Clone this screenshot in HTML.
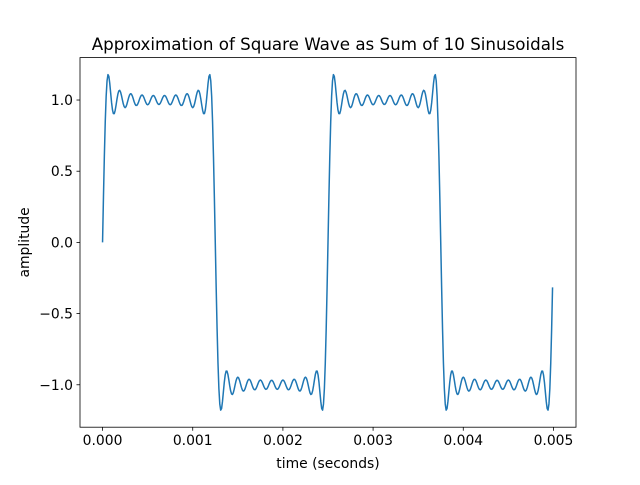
<!DOCTYPE html>
<html><head><meta charset="utf-8"><style>
body{margin:0;background:#fff;font-family:"Liberation Sans","DejaVu Sans",sans-serif}
svg text{font-family:"DejaVu Sans","Liberation Sans",sans-serif;fill:#000}
</style></head><body>
<svg id="chart" width="640" height="480">
<rect width="640" height="480" fill="#fff"/>
<g id="ticks"></g>
<path id="line" fill="none" stroke="#1f77b4" stroke-width="1.5" stroke-linejoin="round"/>
<rect x="80" y="57.6" width="496" height="369.6" fill="none" stroke="#000" stroke-width="0.8"/>
<text x="328" y="50" text-anchor="middle" font-size="16.7">Approximation of Square Wave as Sum of 10 Sinusoidals</text>
<text x="328" y="468" text-anchor="middle" font-size="13.9">time (seconds)</text>
<text x="29" y="242.4" text-anchor="middle" font-size="13.9" transform="rotate(-90 29 242.4)">amplitude</text>
</svg>
<script>
const harmonicNumbers=[1,3,5,7,9,11,13,15,17,19];
const harmonicAmplitudes=[1,1/3,1/5,1/7,1/9,1/11,1/13,1/15,1/17,1/19];
const baseFrequency=400;
const timeStart=0, timeEnd=0.005, timeStep=0.00001;
const xTicks=[0,0.001,0.002,0.003,0.004,0.005];
const xTickLabels=["0.000","0.001","0.002","0.003","0.004","0.005"];
const yTicks=[-1,-0.5,0,0.5,1];
const yTickLabels=["\u22121.0","\u22120.5","0.0","0.5","1.0"];
const L=80,R=576,T=57.6,B=427.2;
const xMin=-0.00025,xMax=0.00525,yMin=-1.298,yMax=1.298;
const xs=v=>L+(v-xMin)/(xMax-xMin)*(R-L);
const ys=v=>B-(v-yMin)/(yMax-yMin)*(B-T);
const NS="http://www.w3.org/2000/svg";
const g=document.getElementById('ticks');
xTicks.forEach((t,i)=>{
 const l=document.createElementNS(NS,'line');
 l.setAttribute('x1',xs(t));l.setAttribute('x2',xs(t));l.setAttribute('y1',B);l.setAttribute('y2',B+3.5);l.setAttribute('stroke','#000');l.setAttribute('stroke-width','0.8');
 
 
 g.appendChild(l);
 const tx=document.createElementNS(NS,'text');
 tx.setAttribute('x',xs(t));tx.setAttribute('y',B+18);tx.setAttribute('text-anchor','middle');tx.setAttribute('font-size','13.9');
 tx.textContent=xTickLabels[i];
 
 
 g.appendChild(tx);
});
yTicks.forEach((t,i)=>{
 const l=document.createElementNS(NS,'line');
 l.setAttribute('x1',L-3.5);l.setAttribute('x2',L);l.setAttribute('y1',ys(t));l.setAttribute('y2',ys(t));l.setAttribute('stroke','#000');l.setAttribute('stroke-width','0.8');
 
 
 g.appendChild(l);
 const tx=document.createElementNS(NS,'text');
 tx.setAttribute('x',L-7);tx.setAttribute('y',ys(t)+5);tx.setAttribute('text-anchor','end');tx.setAttribute('font-size','13.9');
 tx.textContent=yTickLabels[i];
 
 
 g.appendChild(tx);
});
let d='';
const n=Math.round((timeEnd-timeStart)/timeStep);
for(let i=0;i<n;i++){
 const t=timeStart+i*timeStep;
 let v=0;
 harmonicNumbers.forEach((k,j)=>{v+=harmonicAmplitudes[j]*Math.sin(2*Math.PI*k*baseFrequency*t);});
 v*=4/Math.PI;
 d+=(i?'L':'M')+xs(t).toFixed(2)+','+ys(v).toFixed(2);
}
document.getElementById('line').setAttribute('d',d);
</script>
</body></html>
